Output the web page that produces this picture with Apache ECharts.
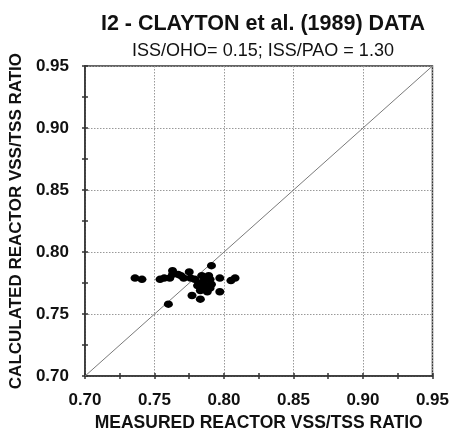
<!DOCTYPE html>
<html>
<head>
<meta charset="utf-8">
<script src="https://cdn.jsdelivr.net/npm/echarts@6/dist/echarts.min.js"></script>
<style>
    html, body { margin: 0; padding: 0; background: #fff; }
    #main { width: 452px; height: 437px; }
</style>
</head>
<body>
<div id="main"></div>
<script>
    // measured vs calculated VSS/TSS ratio
    var measured = [0.736, 0.741, 0.754, 0.757, 0.761, 0.763, 0.763, 0.767, 0.769, 0.771,
                    0.775, 0.776, 0.779, 0.782, 0.784, 0.786, 0.789, 0.791, 0.790, 0.781,
                    0.785, 0.783, 0.777, 0.783, 0.790, 0.788, 0.797, 0.797, 0.805, 0.808,
                    0.760, 0.791, 0.786];
    var calculated = [0.779, 0.778, 0.778, 0.779, 0.779, 0.785, 0.782, 0.782, 0.781, 0.779,
                      0.784, 0.779, 0.778, 0.775, 0.781, 0.778, 0.781, 0.789, 0.778, 0.773,
                      0.771, 0.769, 0.765, 0.762, 0.771, 0.768, 0.779, 0.768, 0.777, 0.779,
                      0.758, 0.774, 0.774];
    var oneToOne = [0.70, 0.95];
    var axisMin = 0.70, axisMax = 0.95, axisStep = 0.05;

    var points = measured.map(function (x, i) { return [x, calculated[i]]; });
    var fnt = 'Arial, "Liberation Sans", sans-serif';
    var txt = '#111';

    function fmt(v) { return v.toFixed(2); }

    // two axes per side so the ticks cross the axis line
    function xAx(main) {
        return {
            type: 'value', min: axisMin, max: axisMax, interval: axisStep,
            position: 'bottom',
            name: main ? 'MEASURED REACTOR VSS/TSS RATIO' : '',
            nameLocation: 'middle', nameGap: 36,
            nameTextStyle: {fontFamily: fnt, fontWeight: 'bold', fontSize: 17.5, color: txt},
            axisLine: {show: main, onZero: false, lineStyle: {color: '#333', width: 1.5}},
            axisTick: {show: true, inside: !main, length: 3, lineStyle: {color: '#333', width: 1.5}},
            minorTick: {show: true, splitNumber: 2, length: 3, lineStyle: {color: '#333', width: 1.5}},
            axisLabel: {show: main, margin: 16, formatter: fmt, fontFamily: fnt, fontWeight: 'bold', fontSize: 17, color: txt},
            splitLine: {show: main, lineStyle: {color: '#999', type: [1.5, 1.5], width: 1}}
        };
    }
    function yAx(main) {
        return {
            type: 'value', min: axisMin, max: axisMax, interval: axisStep,
            position: 'left',
            name: main ? 'CALCULATED REACTOR VSS/TSS RATIO' : '',
            nameLocation: 'middle', nameGap: 58,
            nameTextStyle: {fontFamily: fnt, fontWeight: 'bold', fontSize: 17, color: txt},
            axisLine: {show: main, onZero: false, lineStyle: {color: '#333', width: 1.5}},
            axisTick: {show: true, inside: !main, length: 3, lineStyle: {color: '#333', width: 1.5}},
            minorTick: {show: true, splitNumber: 2, length: 3, lineStyle: {color: '#333', width: 1.5}},
            axisLabel: {show: main, margin: 16, formatter: fmt, fontFamily: fnt, fontWeight: 'bold', fontSize: 17, color: txt},
            splitLine: {show: main, lineStyle: {color: '#999', type: [1.5, 1.5], width: 1}}
        };
    }

    var myChart = echarts.init(document.getElementById('main'));
    myChart.setOption({
        animation: false,
        backgroundColor: '#fff',
        title: [
            {text: 'I2 - CLAYTON et al. (1989) DATA', left: 258, top: 8, textAlign: 'center',
             textStyle: {fontFamily: fnt, fontWeight: 'bold', fontSize: 21.5, color: txt}},
            {text: 'ISS/OHO= 0.15; ISS/PAO = 1.30', left: 258, top: 37, textAlign: 'center',
             textStyle: {fontFamily: fnt, fontWeight: 'normal', fontSize: 18, color: txt}}
        ],
        grid: {left: 80, right: 15, top: 66, bottom: 55, show: true, borderColor: '#333', borderWidth: 1.5,
               backgroundColor: 'transparent'},
        xAxis: [xAx(true), xAx(false)],
        yAxis: [yAx(true), yAx(false)],
        series: [
            {
                type: 'line', xAxisIndex: 0, yAxisIndex: 0,
                data: [[oneToOne[0], oneToOne[0]], [oneToOne[1], oneToOne[1]]],
                symbol: 'none', lineStyle: {color: '#7a7a7a', width: 1}, silent: true, z: 2
            },
            {
                type: 'scatter', xAxisIndex: 0, yAxisIndex: 0,
                data: points, symbol: 'circle', symbolSize: [9, 7.5],
                itemStyle: {color: '#000', opacity: 1}, z: 3
            }
        ]
    });
</script>
</body>
</html>
